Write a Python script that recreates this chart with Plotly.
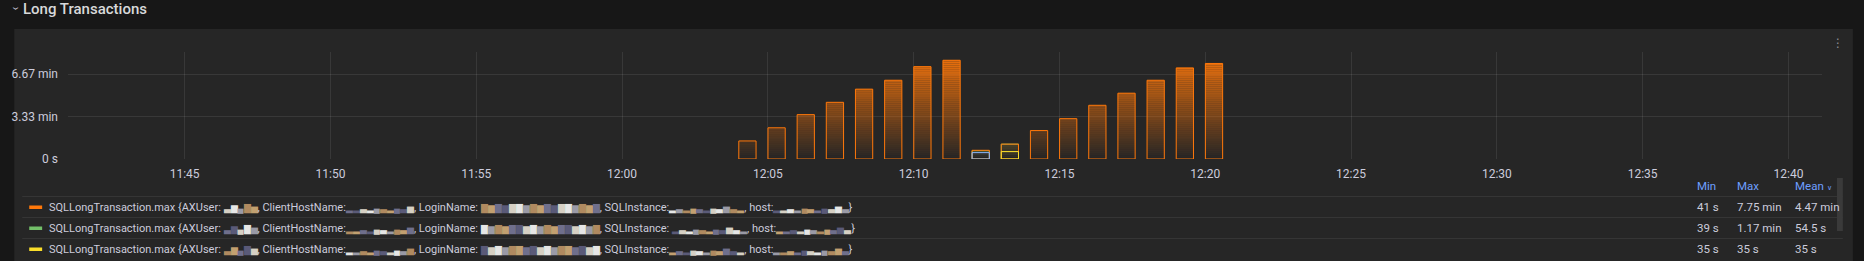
import numpy as np
import pandas as pd
import plotly.graph_objects as go

# ---------------- data ----------------
bar_times = [
    "2024-05-14 12:04:18", "2024-05-14 12:05:18", "2024-05-14 12:06:18", "2024-05-14 12:07:18",
    "2024-05-14 12:08:18", "2024-05-14 12:09:18", "2024-05-14 12:10:18", "2024-05-14 12:11:18",
    "2024-05-14 12:12:18", "2024-05-14 12:13:18", "2024-05-14 12:14:18", "2024-05-14 12:15:18",
    "2024-05-14 12:16:18", "2024-05-14 12:17:18", "2024-05-14 12:18:18", "2024-05-14 12:19:18",
    "2024-05-14 12:20:18",
]
orange_values = [85, 147, 209, 267, 329, 371, 435, 465, 41, 70, 134, 190, 253, 310, 371, 429, 450]  # seconds

green_times = ["2024-05-14 12:12:18", "2024-05-14 12:13:18"]
green_values = [39, 70]

yellow_times = ["2024-05-14 12:13:18"]
yellow_values = [35]

blue_times = ["2024-05-14 12:12:18"]
blue_values = [30]

y_tick_values = [0, 200, 400]
x_range = ["2024-05-14 11:41:00", "2024-05-14 12:41:09"]
y_max = 504

title_text = "Long Transactions"
legend_prefix = "SQLLongTransaction.max"
legend_headers = ["Min", "Max", "Mean"]

# ---------------- styling helpers ----------------
W, H = 1864, 261
PL, PR, PT, PB = 58, 1822, 52, 159

PANEL = "#262626"
OUTER = "#171717"
TEXT = "#ccccdc"
GRID = "rgba(255,255,255,0.085)"
FONT = "Roboto"


def fx(px):
    return (px - PL) / (PR - PL)


def fy(py):
    return (PB - py) / (PB - PT)


def fmt(v):
    if v == 0:
        return "0 s"
    if v < 60:
        return f"{v:.3g} s"
    return f"{v / 60:.2f} min"


def rgba(hex_color, a):
    h = hex_color.lstrip("#")
    r, g, b = int(h[0:2], 16), int(h[2:4], 16), int(h[4:6], 16)
    return f"rgba({r},{g},{b},{a:.3f})"


series = [
    ("green", "#73BF69", green_times, green_values),
    ("orange", "#FF780A", bar_times, orange_values),
    ("yellow", "#FADE2A", yellow_times, yellow_values),
    ("blue", "#8AB8FF", blue_times, blue_values),
]

BAR_W = 35500  # ms
n_bands = 56
edges = np.linspace(0, y_max, n_bands + 1)

fig = go.Figure()
for key, col, ts, vals in series:
    v = np.array(vals, dtype=float)
    for k in range(n_bands):
        lo, hi = edges[k], edges[k + 1]
        seg = np.clip(v - lo, 0, hi - lo)
        if not np.any(seg > 0):
            continue
        mid = (lo + hi) / 2
        alpha = 0.97 * mid / y_max
        fig.add_trace(go.Bar(
            x=ts, y=[s if s > 0 else None for s in seg], base=lo,
            width=BAR_W, marker=dict(color=rgba(col, alpha), line=dict(width=0)),
            hoverinfo="skip", showlegend=False,
        ))
    fig.add_trace(go.Bar(
        x=ts, y=vals, width=BAR_W,
        marker=dict(color="rgba(0,0,0,0)", line=dict(color=col, width=1)),
        hoverinfo="skip", showlegend=False,
    ))

shapes = []
annotations = []

# panel background
shapes.append(dict(type="rect", xref="paper", yref="paper", layer="below",
                   x0=fx(4), x1=fx(1853), y0=fy(275), y1=fy(29),
                   fillcolor=PANEL, line=dict(width=0)))

# title
annotations.append(dict(xref="paper", yref="paper", x=fx(6), y=fy(9), text="›", textangle=90,
                        showarrow=False, xanchor="center", yanchor="middle",
                        font=dict(family=FONT, size=12, color=TEXT)))
annotations.append(dict(xref="paper", yref="paper", x=fx(11), y=fy(8.5), text=title_text,
                        showarrow=False, xanchor="left", yanchor="middle",
                        font=dict(family=FONT, size=15, color="#d8d9da", weight=500)))
# kebab menu
annotations.append(dict(xref="paper", yref="paper", x=fx(1838), y=fy(43), text="⋮",
                        showarrow=False, xanchor="center", yanchor="middle",
                        font=dict(family="DejaVu Sans", size=12, color="#8e9096")))

# legend table
col_x = [1694.5, 1734.5, 1793]
header_y = 186
row_y = [207, 228, 249]
sep_y = [196.5, 217.5, 238.5]
for sy in sep_y:
    shapes.append(dict(type="line", xref="paper", yref="paper", x0=fx(12), x1=fx(1843),
                       y0=fy(sy), y1=fy(sy), line=dict(color="rgba(255,255,255,0.07)", width=1)))

for hx, htxt in zip(col_x, legend_headers):
    annotations.append(dict(xref="paper", yref="paper", x=fx(hx), y=fy(header_y),
                            text=htxt + (" <span style='font-size:7px'>∨</span>" if htxt == "Mean" else ""),
                            showarrow=False, xanchor="left", yanchor="middle",
                            font=dict(family=FONT, size=11.5, color="#6E9FFF")))

MASK_COLORS = ["#d6d0c4", "#6f6f8c", "#b08a60", "#e6e6e6", "#5a5a78", "#c2a070", "#9a9aa6"]


def mask(chars, seed):
    out = []
    for i, ch in enumerate(chars):
        c = MASK_COLORS[(i * 3 + seed) % len(MASK_COLORS)]
        out.append(f"<span style='color:{c};font-size:8.5px'>{ch}</span>")
    return "".join(out)


def row_label(i, sql_space):
    return (
        f"{legend_prefix} {{AXUser: {mask('▃▆▄▇▅', i)}, ClientHostName:{mask('▂▂▃▂▄▃▂▄▃▅', i + 1)}, "
        f"LoginName: {mask('▇▆▇▆▇▇▆▇▆▇▆▇▇▆▇▆▇', i + 2)}, SQLInstance:{' ' if sql_space else ''}"
        f"{mask('▂▃▂▄▃▂▄▃▅▃▂', i + 3)}, host:{mask('▂▂▃▂▄▃▂▄▃▅▃', i + 4)}}}"
    )


row_labels = [row_label(0, False), row_label(1, True), row_label(2, False)]
legend_series = [series[1], series[0], series[2]]  # orange, green, yellow rows
for (key, col, ts, vals), ry, lbl in zip(legend_series, row_y, row_labels):
    shapes.append(dict(type="rect", xref="paper", yref="paper", x0=fx(19), x1=fx(32),
                       y0=fy(ry + 2), y1=fy(ry - 1.5), fillcolor=col, line=dict(width=0)))
    annotations.append(dict(xref="paper", yref="paper", x=fx(37), y=fy(ry), text=lbl,
                            showarrow=False, xanchor="left", yanchor="middle",
                            font=dict(family=FONT, size=11, color=TEXT)))
    stats = [fmt(min(vals)), fmt(max(vals)), fmt(float(np.mean(vals)))]
    for sx, st in zip(col_x, stats):
        annotations.append(dict(xref="paper", yref="paper", x=fx(sx), y=fy(ry), text=st,
                                showarrow=False, xanchor="left", yanchor="middle",
                                font=dict(family=FONT, size=11.5, color=TEXT)))

# scrollbar
shapes.append(dict(type="rect", xref="paper", yref="paper", x0=fx(1837), x1=fx(1843),
                   y0=fy(231), y1=fy(178), fillcolor="#3a3a3a", line=dict(width=0)))

fig.update_layout(
    width=W, height=H,
    margin=dict(l=PL, r=W - PR, t=PT, b=H - PB, pad=0),
    paper_bgcolor=OUTER, plot_bgcolor=PANEL,
    barmode="overlay",
    showlegend=False,
    font=dict(family=FONT, size=12, color=TEXT),
    shapes=shapes, annotations=annotations,
    xaxis=dict(type="date", range=x_range, tick0="2024-05-14 11:45:00", dtick=300000,
               tickformat="%H:%M", showgrid=True, gridcolor=GRID, gridwidth=1,
               zeroline=False, showline=False, ticks="", ticklabelstandoff=6,
               tickfont=dict(family=FONT, size=12, color=TEXT), fixedrange=True),
    yaxis=dict(range=[0, y_max], tickvals=y_tick_values, ticktext=[fmt(v) for v in y_tick_values],
               showgrid=True, gridcolor=GRID, gridwidth=1, zeroline=False, showline=False,
               ticks="", ticklabelstandoff=9,
               tickfont=dict(family=FONT, size=12, color=TEXT), fixedrange=True),
)

fig.write_html("out.html", config={"displayModeBar": False})
